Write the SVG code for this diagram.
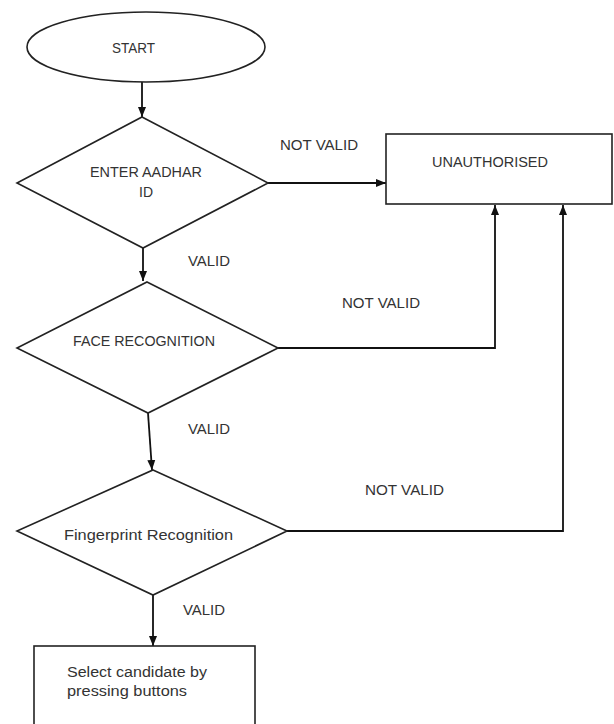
<svg xmlns="http://www.w3.org/2000/svg" width="614" height="724" viewBox="0 0 614 724">
<style>
.shape{fill:#fff;stroke:#222;stroke-width:1.6}
.conn{fill:none;stroke:#111;stroke-width:1.8}
.t{font-family:"Liberation Sans",Arial,sans-serif;font-size:14px;fill:#333}
</style>
<defs>
<marker id="arr" markerUnits="userSpaceOnUse" markerWidth="10" markerHeight="10" viewBox="0 0 10 10" refX="10" refY="5" orient="auto">
<path d="M0,1 L10,5 L0,9 Z" fill="#111"/>
</marker>
</defs>
<rect width="614" height="724" fill="#fff"/>
<g id="connectors">
<path class="conn" d="M142,82 L142,117" marker-end="url(#arr)"/>
<path class="conn" d="M268,183 L386,183" marker-end="url(#arr)"/>
<path class="conn" d="M143,248 L143,281" marker-end="url(#arr)"/>
<path class="conn" d="M278,348 L495,348 L495,205" marker-end="url(#arr)"/>
<path class="conn" d="M148,413 L152,470" marker-end="url(#arr)"/>
<path class="conn" d="M287,531 L563,531 L563,205" marker-end="url(#arr)"/>
<path class="conn" d="M153,595 L153,646" marker-end="url(#arr)"/>
</g>
<g id="start">
<ellipse class="shape" cx="146" cy="47" rx="119" ry="35"/>
<text class="t" x="112" y="53" textLength="43" lengthAdjust="spacingAndGlyphs">START</text>
</g>
<g id="enter-aadhar">
<polygon class="shape" points="142,117 268,183 143,248 17,183"/>
<text class="t" x="90" y="177" textLength="112" lengthAdjust="spacingAndGlyphs">ENTER AADHAR</text>
<text class="t" x="139" y="197" textLength="14" lengthAdjust="spacingAndGlyphs">ID</text>
</g>
<g id="unauthorised">
<rect class="shape" x="386" y="134" width="226" height="70"/>
<text class="t" x="432" y="167" textLength="116" lengthAdjust="spacingAndGlyphs">UNAUTHORISED</text>
</g>
<g id="face-recognition">
<polygon class="shape" points="147,282 278,348 148,413 17,348"/>
<text class="t" x="73" y="346" textLength="142" lengthAdjust="spacingAndGlyphs">FACE RECOGNITION</text>
</g>
<g id="fingerprint-recognition">
<polygon class="shape" points="153,470 287,531 153,595 17,531"/>
<text class="t" x="64" y="540" textLength="169" lengthAdjust="spacingAndGlyphs">Fingerprint Recognition</text>
</g>
<g id="select-candidate">
<rect class="shape" x="34" y="646" width="221" height="90"/>
<text class="t" x="67" y="677" textLength="140" lengthAdjust="spacingAndGlyphs">Select candidate by</text>
<text class="t" x="67" y="696" textLength="120" lengthAdjust="spacingAndGlyphs">pressing buttons</text>
</g>
<g id="labels">
<text class="t" x="280" y="150" textLength="78" lengthAdjust="spacingAndGlyphs">NOT VALID</text>
<text class="t" x="188" y="266" textLength="42" lengthAdjust="spacingAndGlyphs">VALID</text>
<text class="t" x="342" y="308" textLength="78" lengthAdjust="spacingAndGlyphs">NOT VALID</text>
<text class="t" x="188" y="434" textLength="42" lengthAdjust="spacingAndGlyphs">VALID</text>
<text class="t" x="365" y="495" textLength="79" lengthAdjust="spacingAndGlyphs">NOT VALID</text>
<text class="t" x="183" y="615" textLength="42" lengthAdjust="spacingAndGlyphs">VALID</text>
</g>
</svg>
